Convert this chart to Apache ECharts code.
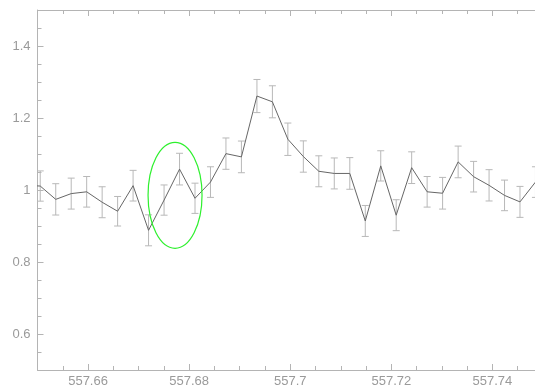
<!DOCTYPE html>
<html>
<head>
<meta charset="utf-8">
<script src="https://cdn.jsdelivr.net/npm/echarts@6/dist/echarts.min.js"></script>
<style>
html,body{margin:0;padding:0;background:#fff;}
#chart{width:535px;height:392px;}
</style>
</head>
<body>
<div id="chart"></div>
<script>
// Wavelength (x) values of the samples
var wavelengths = [557.64748, 557.65054, 557.65361, 557.65667, 557.65973, 557.66279, 557.66585, 557.66891,
  557.67197, 557.67504, 557.67810, 557.68116, 557.68422, 557.68728, 557.69034, 557.69341,
  557.69647, 557.69953, 557.70259, 557.70565, 557.70871, 557.71178, 557.71484, 557.71790,
  557.72096, 557.72402, 557.72708, 557.73014, 557.73321, 557.73627, 557.73933, 557.74239,
  557.74545, 557.74851];
// Normalised flux values
var flux = [1.013, 1.011, 0.974, 0.990, 0.995, 0.966, 0.941, 1.012,
  0.888, 0.972, 1.058, 0.977, 1.022, 1.101, 1.092, 1.261,
  1.245, 1.141, 1.093, 1.052, 1.046, 1.046, 0.914, 1.067,
  0.930, 1.062, 0.995, 0.991, 1.078, 1.037, 1.013, 0.985,
  0.967, 1.022];
// Symmetric error (+/-) for each sample
var fluxErr = [null, 0.042, 0.0435, 0.043, 0.0425, 0.043, 0.041, 0.0426,
  0.043, 0.042, 0.044, 0.042, 0.0425, 0.0435, 0.044, 0.046,
  0.0445, 0.045, 0.0435, 0.043, 0.043, 0.044, 0.043, 0.042,
  0.043, 0.044, 0.0425, 0.044, 0.044, 0.0425, 0.0435, 0.0425,
  0.043, 0.0425];
// Tick labels
var xTickLabels = [557.66, 557.68, 557.70, 557.72, 557.74];
var yTickLabels = [0.6, 0.8, 1.0, 1.2, 1.4];
// Highlight ellipse (data units): centre and radii
var ellipseCenter = [557.67721, 0.9853];
var ellipseRadii = [0.00534, 0.1472];

var lineData = wavelengths.map(function (x, i) { return [x, flux[i]]; });
var errData = [];
wavelengths.forEach(function (x, i) {
  if (fluxErr[i] != null) errData.push([x, flux[i] - fluxErr[i], flux[i] + fluxErr[i]]);
});

var axisGray = '#b4b4b4';
var labelGray = '#9a9a9a';

function xAxisDef(pos, major) {
  var a = {
    type: 'value', position: pos, min: 557.65, max: 557.75,
    axisLine: { show: major, lineStyle: { color: axisGray, width: 1 } },
    splitLine: { show: false },
    axisTick: { show: true, inside: true, length: major ? 6 : 4, lineStyle: { color: axisGray, width: 1 } },
    axisLabel: { show: false }
  };
  if (major) {
    a.axisTick.customValues = xTickLabels;
    if (pos === 'bottom') {
      a.axisLabel = { show: true, customValues: xTickLabels, color: labelGray, fontSize: 13,
        fontFamily: 'Liberation Sans', margin: 5 };
    }
  } else {
    a.interval = 0.005;
  }
  return a;
}
function yAxisDef(major) {
  var a = {
    type: 'value', position: 'left', min: 0.5, max: 1.5,
    axisLine: { show: major, lineStyle: { color: axisGray, width: 1 } },
    splitLine: { show: false },
    axisTick: { show: true, inside: true, length: major ? 6 : 4, lineStyle: { color: axisGray, width: 1 } },
    axisLabel: { show: false }
  };
  if (major) {
    a.axisTick.customValues = yTickLabels;
    a.axisLabel = { show: true, customValues: yTickLabels, color: labelGray, fontSize: 13,
      fontFamily: 'Liberation Sans', margin: 7 };
  } else {
    a.interval = 0.05;
  }
  return a;
}

var chart = echarts.init(document.getElementById('chart'), null, { renderer: 'canvas' });
chart.setOption({
  animation: false,
  backgroundColor: '#ffffff',
  grid: { left: 37.5, top: 10, width: 505.5, height: 360, containLabel: false, outerBoundsMode: 'none' },
  xAxis: [xAxisDef('bottom', true), xAxisDef('bottom', false), xAxisDef('top', true), xAxisDef('top', false)],
  yAxis: [yAxisDef(true), yAxisDef(false)],
  series: [
    {
      type: 'custom', xAxisIndex: 0, yAxisIndex: 0, clip: true,
      data: errData,
      renderItem: function (params, api) {
        var x = api.value(0);
        var top = api.coord([x, api.value(2)]);
        var bot = api.coord([x, api.value(1)]);
        var hw = 3.5;
        var st = { stroke: '#b8b8b8', lineWidth: 1 };
        return {
          type: 'group',
          children: [
            { type: 'line', shape: { x1: top[0], y1: top[1], x2: bot[0], y2: bot[1] }, style: st },
            { type: 'line', shape: { x1: top[0] - hw, y1: top[1], x2: top[0] + hw, y2: top[1] }, style: st },
            { type: 'line', shape: { x1: bot[0] - hw, y1: bot[1], x2: bot[0] + hw, y2: bot[1] }, style: st }
          ]
        };
      },
      z: 2
    },
    {
      type: 'line', xAxisIndex: 0, yAxisIndex: 0,
      data: lineData, showSymbol: false, symbol: 'none',
      lineStyle: { color: '#666666', width: 1 },
      clip: true, z: 3
    },
    {
      type: 'custom', xAxisIndex: 0, yAxisIndex: 0,
      data: [[ellipseCenter[0], ellipseCenter[1], ellipseRadii[0], ellipseRadii[1]]],
      renderItem: function (params, api) {
        var c = api.coord([api.value(0), api.value(1)]);
        var s = api.size([api.value(2), api.value(3)]);
        var rx = s[0], ry = s[1];
        var d = 'M ' + (c[0] - rx) + ' ' + c[1] +
          ' A ' + rx + ' ' + ry + ' 0 1 0 ' + (c[0] + rx) + ' ' + c[1] +
          ' A ' + rx + ' ' + ry + ' 0 1 0 ' + (c[0] - rx) + ' ' + c[1] + ' Z';
        return { type: 'path', shape: { pathData: d }, style: { stroke: '#2ef02e', fill: null, lineWidth: 1.2 } };
      },
      z: 4
    }
  ]
});
</script>
</body>
</html>
